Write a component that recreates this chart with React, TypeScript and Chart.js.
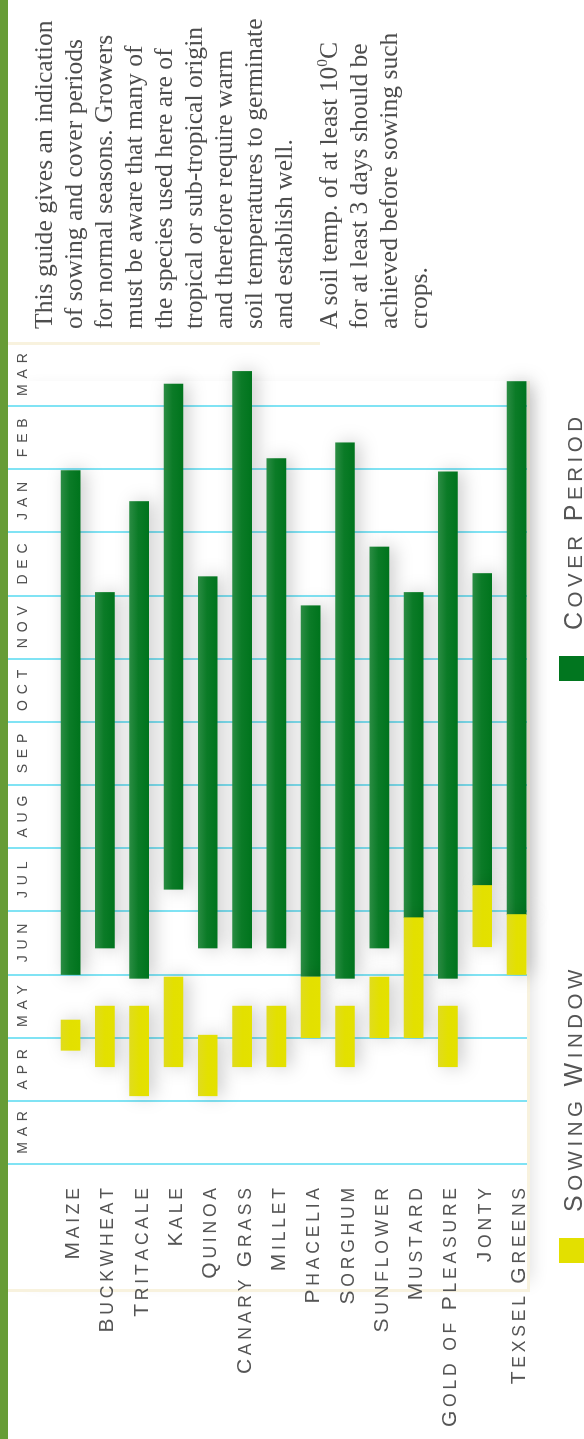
import React, { useEffect, useRef } from 'react';
import { Chart, registerables } from 'chart.js';

Chart.register(...registerables);

// ---- data ----
const crops = ['Maize', 'Buckwheat', 'Tritacale', 'Kale', 'Quinoa', 'Canary Grass', 'Millet', 'Phacelia', 'Sorghum', 'Sunflower', 'Mustard', 'Gold of Pleasure', 'Jonty', 'Texsel Greens'];
const months = ['MAR', 'APR', 'MAY', 'JUN', 'JUL', 'AUG', 'SEP', 'OCT', 'NOV', 'DEC', 'JAN', 'FEB', 'MAR'];
// month index: 0 = start of March ... 13 = end of following March
const sowStart = [1.8, 1.54, 1.08, 1.54, 1.08, 1.54, 1.54, 2.0, 1.54, 2.0, 2.0, 1.54, 3.44, 3.0];
const sowEnd = [2.28, 2.5, 2.5, 2.96, 2.04, 2.5, 2.5, 2.96, 2.5, 2.96, 3.9, 2.5, 4.41, 3.95];
const coverStart = [3.0, 3.42, 2.94, 4.35, 3.42, 3.42, 3.42, 2.97, 2.94, 3.42, 3.9, 2.94, 4.41, 3.95];
const coverEnd = [10.98, 9.05, 10.49, 12.35, 9.3, 12.55, 11.17, 8.84, 11.42, 9.77, 9.05, 10.96, 9.35, 12.39];
const legendLabels = ['Sowing Window', 'Cover Period'];

const W = 1439;
const H = 584;
const YELLOW = '#e3e000';
const GREEN = '#01761f';
const SANS = '"Liberation Sans", Arial, sans-serif';

function drawCaps(ctx: CanvasRenderingContext2D, text: string, x: number, y: number, big: number, small: number, spacing: number, align: string, color: string) {
  const chars: { ch: string; size: number; w: number }[] = [];
  for (const c of text) {
    const isUpper = c !== c.toLowerCase();
    const size = isUpper ? big : small;
    ctx.font = `${size}px ${SANS}`;
    const ch = c.toUpperCase();
    chars.push({ ch, size, w: ctx.measureText(ch).width });
  }
  const total = chars.reduce((s, c) => s + c.w, 0) + spacing * (chars.length - 1);
  let cx = align === 'right' ? x - total : align === 'center' ? x - total / 2 : x;
  ctx.fillStyle = color;
  ctx.textBaseline = 'alphabetic';
  ctx.textAlign = 'left';
  for (const c of chars) {
    ctx.font = `${c.size}px ${SANS}`;
    ctx.fillText(c.ch, cx, y);
    cx += c.w + spacing;
  }
}

const overlayPlugin = {
  id: 'overlay',
  beforeDatasetsDraw(chart: any) {
    const ctx: CanvasRenderingContext2D = chart.ctx;
    const xs = chart.scales.x;
    const ys = chart.scales.y;
    ctx.save();
    ctx.strokeStyle = '#80e3f4';
    ctx.lineWidth = 2;
    for (let i = 0; i < months.length; i++) {
      const px = Math.round(xs.getPixelForValue(i));
      ctx.beginPath();
      ctx.moveTo(px, 8);
      ctx.lineTo(px, 527);
      ctx.stroke();
    }
    months.forEach((m, i) => drawCaps(ctx, m, xs.getPixelForValue(i + 0.5), 26.5, 14, 14, 5.8, 'center', '#505050'));
    crops.forEach((c, i) => drawCaps(ctx, c, 251, ys.getPixelForValue(i) + 8.5, 21, 17.5, 3.8, 'right', '#555'));
    // legend
    const legendPos = [{ sq: 176, tx: 227 }, { sq: 758, tx: 809 }];
    chart.data.datasets.forEach((ds: any, i: number) => {
      ctx.fillStyle = i === 0 ? YELLOW : GREEN;
      ctx.fillRect(legendPos[i].sq, 559, 25, 25);
      drawCaps(ctx, ds.label, legendPos[i].tx, 582, 25, 20.5, 4.5, 'left', '#555');
    });
    ctx.restore();
    ctx.save();
    ctx.shadowColor = 'rgba(0,0,0,0.2)';
    ctx.shadowBlur = 18;
    ctx.shadowOffsetX = 0;
    ctx.shadowOffsetY = 5;
  },
  afterDatasetsDraw(chart: any) {
    chart.ctx.restore();
  },
};

function greenFill(c: any) {
  const chart = c.chart;
  if (!chart.chartArea || c.type !== 'data') return GREEN;
  const yc = chart.scales.y.getPixelForValue(c.dataIndex);
  const g = chart.ctx.createLinearGradient(0, yc - 9.5, 0, yc + 9.5);
  g.addColorStop(0, '#2a8c43');
  g.addColorStop(0.45, '#0b7b27');
  g.addColorStop(1, '#00741d');
  return g;
}

function yellowFill(c: any) {
  const chart = c.chart;
  if (!chart.chartArea || c.type !== 'data') return YELLOW;
  const yc = chart.scales.y.getPixelForValue(c.dataIndex);
  const g = chart.ctx.createLinearGradient(0, yc - 9.5, 0, yc + 9.5);
  g.addColorStop(0, '#e0dc1e');
  g.addColorStop(0.5, '#e3e000');
  g.addColorStop(1, '#e4e100');
  return g;
}

function GanttChart() {
  const ref = useRef<HTMLCanvasElement>(null);
  useEffect(() => {
    if (!ref.current) return;
    const chart = new Chart(ref.current, {
      type: 'bar',
      data: {
        labels: crops,
        datasets: [
          {
            label: legendLabels[0],
            data: crops.map((_, i) => [sowStart[i], sowEnd[i]]),
            backgroundColor: yellowFill,
            grouped: false,
            barThickness: 19,
            clip: false,
          } as any,
          {
            label: legendLabels[1],
            data: crops.map((_, i) => [coverStart[i], coverEnd[i]]),
            backgroundColor: greenFill,
            grouped: false,
            barThickness: 19,
            clip: false,
          } as any,
        ],
      },
      options: {
        indexAxis: 'y',
        responsive: false,
        animation: false,
        layout: { padding: { left: 275, right: W - 1096, top: 53.4, bottom: H - 533.7 } },
        scales: {
          x: { type: 'linear', min: 0, max: 13, display: false },
          y: { type: 'category', display: false, offset: true },
        },
        plugins: { legend: { display: false }, tooltip: { enabled: false } },
      },
      plugins: [overlayPlugin],
    } as any);
    return () => chart.destroy();
  }, []);
  return <canvas ref={ref} width={W} height={H} style={{ position: 'absolute', left: 0, top: 0 }} />;
}

const paraStyle: React.CSSProperties = {
  position: 'absolute',
  left: 1110,
  fontFamily: '"Liberation Serif", "Times New Roman", serif',
  fontSize: 25.6,
  lineHeight: '30px',
  color: '#4d4d4d',
  whiteSpace: 'nowrap',
  margin: 0,
};

export default function App() {
  return (
    <div style={{ position: 'absolute', left: 0, top: 0, width: 584, height: 1439, overflow: 'hidden', background: '#fff' }}>
      <div
        style={{
          position: 'absolute',
          left: 0,
          top: 0,
          width: W,
          height: H,
          transformOrigin: '0 0',
          transform: `translate(0px, ${W}px) rotate(-90deg)`,
          background: '#fff',
        }}
      >
        <div style={{ position: 'absolute', left: 149, top: 8, width: 909, height: 520, background: '#fff', boxShadow: '0 12px 16px -8px rgba(0,0,0,0.12)' }} />
        <div style={{ position: 'absolute', left: 1094, top: 8, width: 3, height: 312, background: '#f8f2de' }} />
        <div style={{ position: 'absolute', left: 149, top: 527, width: 909, height: 3, background: '#f8f2de' }} />
        <div style={{ position: 'absolute', left: 147, top: 8, width: 3, height: 522, background: '#f8f2de' }} />
        <GanttChart />
        <div style={{ position: 'absolute', left: 0, top: 0, width: W, height: 8, background: '#679c36' }} />
        <div style={{ ...paraStyle, top: 29 }}>
          This guide gives an indication<br />
          of sowing and cover periods<br />
          for normal seasons. Growers<br />
          must be aware that many of<br />
          the species used here are of<br />
          tropical or sub-tropical origin<br />
          and therefore require warm<br />
          soil temperatures to germinate<br />
          and establish well.
        </div>
        <div style={{ ...paraStyle, top: 314 }}>
          A soil temp. of at least 10<sup style={{ fontSize: '60%', lineHeight: 0 }}>0</sup>C<br />
          for at least 3 days should be<br />
          achieved before sowing such<br />
          crops.
        </div>
      </div>
    </div>
  );
}
